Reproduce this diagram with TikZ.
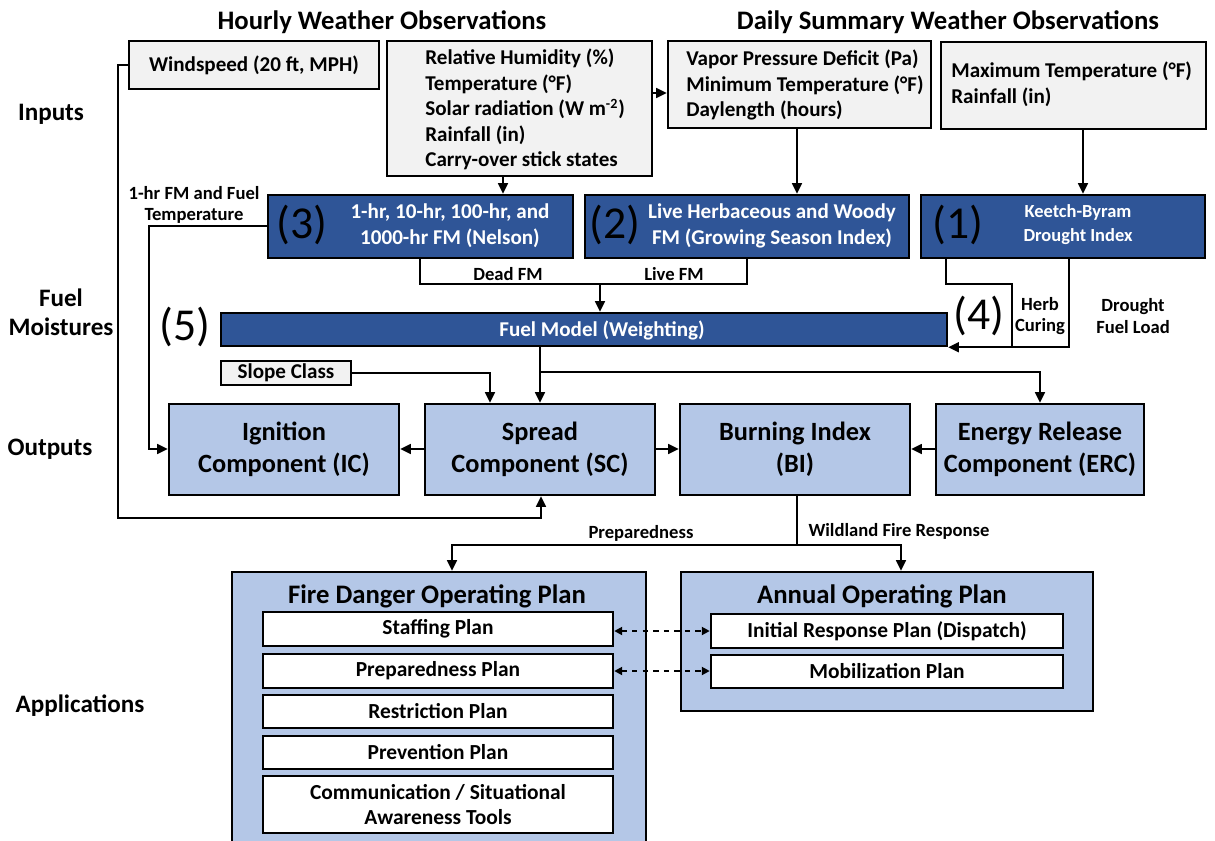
\documentclass[tikz,border=0pt]{standalone}
\usepackage{fontspec}
\setmainfont{Carlito}
\usetikzlibrary{arrows.meta}
\definecolor{dblue}{RGB}{47,85,151}
\definecolor{lblue}{RGB}{180,199,231}
\definecolor{lgray}{RGB}{242,242,242}
\newcommand\myfs[2]{\fontsize{#1}{#2}\selectfont}
\tikzset{
 sz/.style 2 args={minimum width=#1*0.02cm, minimum height=#2*0.02cm},
 gbox/.style={draw, line width=1.4pt, fill=lgray, inner sep=0pt, font=\bfseries\myfs{12}{14.5}},
 gtxt/.style={anchor=west, align=left, inner sep=0pt, font=\bfseries\myfs{12}{14.5}},
 dbox/.style={draw, line width=1.4pt, fill=dblue, inner sep=0pt},
 lbox/.style={draw, line width=1.4pt, fill=lblue, inner sep=0pt, align=center, font=\bfseries\myfs{15}{18.1}},
 wbox/.style={draw, line width=1.4pt, fill=white, inner sep=0pt, align=center, font=\bfseries\myfs{12.2}{14.2}},
 wtext/.style={text=white, align=center, inner sep=0pt, font=\bfseries\myfs{12}{14.8}},
 num/.style={inner sep=0pt, font=\myfs{26}{26}},
 small/.style={align=center, font=\bfseries\myfs{10.6}{11.5}},
 side/.style={align=center, font=\bfseries\myfs{14.3}{16.4}},
 title/.style={font=\bfseries\myfs{15.2}{17}},
 ln/.style={line width=1.2pt},
 arr/.style={line width=1.2pt, -{Triangle[length=6pt,width=5.5pt]}},
 darr/.style={line width=1.2pt, dashed, {Triangle[length=4.5pt,width=4.5pt]}-{Triangle[length=4.5pt,width=4.5pt]}},
}
\begin{document}
\begin{tikzpicture}[x=0.02cm,y=-0.02cm]
\useasboundingbox (0,0) rectangle (1215,840);
% titles and side labels
\node[title] (th) at (382,22) {Hourly Weather Observations};
\node[title] (td) at (948,22) {Daily Summary Weather Observations};
\node[side] (sIn) at (51,114) {Inputs};
\node[side] (sFm) at (61,312) {Fuel\\Moistures};
\node[side] (sOut) at (50,449) {Outputs};
\node[side] (sApp) at (80,706) {Applications};
% inputs
\node[gbox, sz={250}{48}] (wind) at (254,65) {Windspeed (20 ft, MPH)};
\node[gbox, sz={265}{135}] (hourly) at (519.5,108.5) {};
\node[gtxt] (hourlyt) at (425,109.5) {Relative Humidity (\%)\\Temperature (°F)\\Solar radiation (W m\textsuperscript{-2})\\Rainfall (in)\\Carry-over stick states};
\node[gbox, sz={263}{87}] (vpd) at (799.5,84.5) {};
\node[gtxt] (vpdt) at (686,85) {Vapor Pressure Deficit (Pa)\\Minimum Temperature (°F)\\Daylength (hours)};
\node[gbox, sz={265}{87}] (maxt) at (1073.5,85.5) {};
\node[gtxt] (maxtt) at (951,84.5) {Maximum Temperature (°F)\\Rainfall (in)};
% fuel moisture boxes
\node[dbox, sz={305}{63}] (b3) at (420.5,226.5) {};
\node[num] (n3) at (302,225) {(3)};
\node[wtext] (b3t) at (450,226) {1-hr, 10-hr, 100-hr, and\\1000-hr FM (Nelson)};
\node[dbox, sz={324}{63}] (b2) at (747,226.5) {};
\node[num] (n2) at (615,225) {(2)};
\node[wtext] (b2t) at (772,226) {Live Herbaceous and Woody\\FM (Growing Season Index)};
\node[dbox, sz={284}{63}] (b1) at (1063,226.5) {};
\node[num] (n1) at (958,225) {(1)};
\node[wtext, font=\bfseries\myfs{10.5}{13.6}] (b1t) at (1078,225) {Keetch-Byram\\Drought Index};
\node[dbox, sz={726}{33}] (fm) at (584,329.5) {};
\node[text=white, font=\bfseries\myfs{12}{14}] (fmt) at (602,330) {Fuel Model (Weighting)};
\node[num] (n5) at (185,327) {(5)};
\node[num] (n4) at (979,316) {(4)};
\node[gbox, sz={130}{24}, line width=1.2pt] (slope) at (286,373) {Slope Class};
% connector labels
\node[small] (l1hr) at (194,205) {1-hr FM and Fuel\\Temperature};
\node[small] (ldead) at (508,274) {Dead FM};
\node[small] (llive) at (674,274) {Live FM};
\node[small, font=\bfseries\myfs{10.6}{12}] (lherb) at (1040,316) {Herb\\Curing};
\node[small, font=\bfseries\myfs{10.6}{12.5}] (ldrought) at (1133,316) {Drought\\Fuel Load};
\node[small] (lprep) at (641,533) {Preparedness};
\node[small] (lwfr) at (899,531) {Wildland Fire Response};
% outputs
\node[lbox, sz={230}{91}] (ic) at (284,449.5) {Ignition\\Component (IC)};
\node[lbox, sz={230}{91}] (sc) at (540,449.5) {Spread\\Component (SC)};
\node[lbox, sz={230}{91}] (bi) at (795,449.5) {Burning Index\\(BI)};
\node[lbox, sz={208}{91}] (erc) at (1040,449.5) {Energy Release\\Component (ERC)};
% applications
\node[lbox, sz={414}{270}] (fdop) at (439,707) {};
\node[title] (fdopt) at (437,596) {Fire Danger Operating Plan};
\node[lbox, sz={412}{139}] (aop) at (887,641.5) {};
\node[title] (aopt) at (882,596) {Annual Operating Plan};
\node[wbox, sz={350}{34}] (staff) at (438,629) {Staffing Plan};
\node[wbox, sz={350}{34}] (prep) at (438,671) {Preparedness Plan};
\node[wbox, sz={350}{33}] (restr) at (438,711.5) {Restriction Plan};
\node[wbox, sz={350}{33}] (prev) at (438,752.5) {Prevention Plan};
\node[wbox, sz={350}{57}] (comm) at (438,804.5) {Communication / Situational\\Awareness Tools};
\node[wbox, sz={352}{34}] (irp) at (887,631) {Initial Response Plan (Dispatch)};
\node[wbox, sz={352}{33}] (mob) at (887,671.5) {Mobilization Plan};
% coordinates
\coordinate (jfm) at (600,284);
\coordinate (j4) at (1012,284);
\coordinate (jerc) at (540,372);
\coordinate (jbi) at (797,545);
% connectors
\draw[arr] (hourly.east |- 0,93) -- (vpd.west |- 0,93);
\draw[arr] (hourly.south -| 503,0) -- (b3.north -| 503,0);
\draw[arr] (vpd.south -| 797,0) -- (b2.north -| 797,0);
\draw[arr] (maxt.south -| 1083,0) -- (b1.north -| 1083,0);
\draw[arr] (wind.west) -| (118,518) -| (sc.south -| 541,0);
\draw[arr] (b3.west |- 0,226) -| (149,449) -- (ic.west |- 0,449);
\draw[ln] (b3.south -| 420,0) |- (jfm);
\draw[ln] (b2.south -| 747,0) |- (jfm);
\draw[arr] (jfm) -- (fm.north -| jfm);
\draw[ln] (b1.south -| 946,0) |- (j4) -- (1012,346);
\draw[arr] (b1.south -| 1069,0) |- (fm.south east);
\draw[arr] (fm.south -| 540,0) -- (sc.north -| 540,0);
\draw[arr] (slope.east) -| (sc.north -| 490,0);
\draw[arr] (jerc) -| (erc.north -| 1040,0);
\draw[arr] (sc.west |- 0,449) -- (ic.east |- 0,449);
\draw[arr] (sc.east |- 0,449) -- (bi.west |- 0,449);
\draw[arr] (erc.west |- 0,449) -- (bi.east |- 0,449);
\draw[ln] (bi.south -| jbi) -- (jbi);
\draw[arr] (jbi) -| (fdop.north -| 452,0);
\draw[arr] (jbi) -| (aop.north -| 901,0);
\draw[darr] (staff.east |- 0,631) -- (irp.west);
\draw[darr] (prep.east) -- (mob.west |- prep.east);
\end{tikzpicture}
\end{document}
